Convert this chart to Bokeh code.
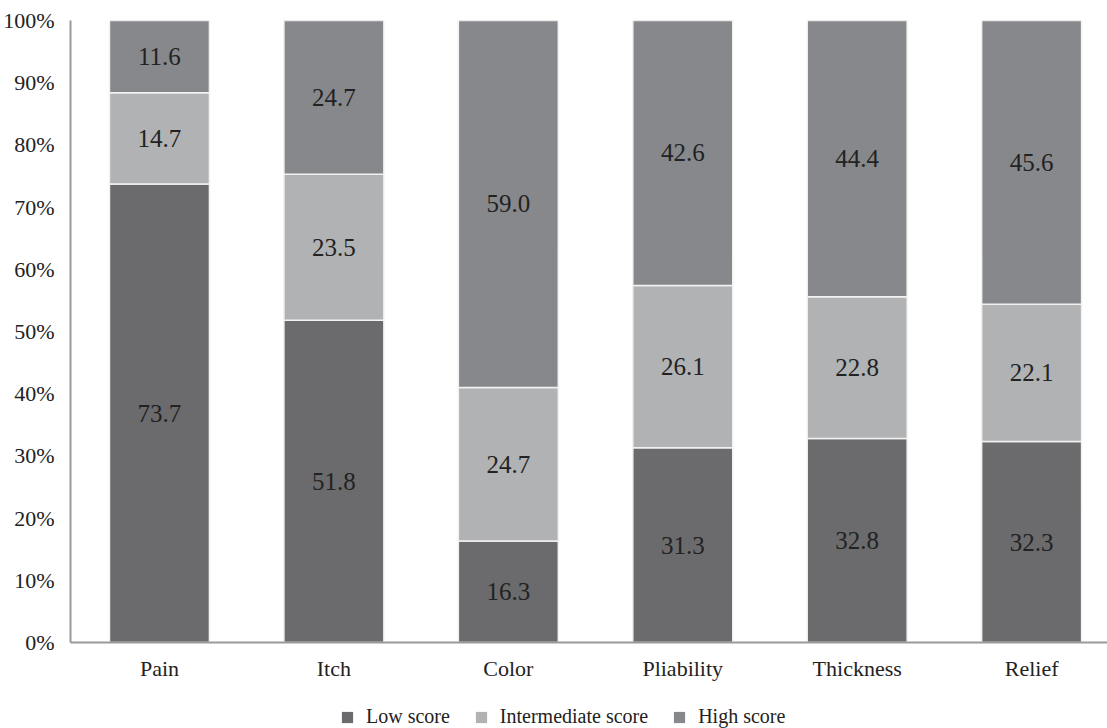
from bokeh.plotting import figure
from bokeh.layouts import column
from bokeh.models import ColumnDataSource, FixedTicker, Legend, LegendItem, Range1d, LabelSet
from bokeh.embed import file_html
from bokeh.resources import INLINE

categories = ["Pain", "Itch", "Color", "Pliability", "Thickness", "Relief"]
low = [73.7, 51.8, 16.3, 31.3, 32.8, 32.3]
intermediate = [14.7, 23.5, 24.7, 26.1, 22.8, 22.1]
high = [11.6, 24.7, 59.0, 42.6, 44.4, 45.6]
series_names = ["Low score", "Intermediate score", "High score"]
colors = ["#6b6b6d", "#b1b2b4", "#87888b"]
y_ticks = list(range(0, 101, 10))

x = list(range(len(categories)))
b1 = [0.0] * len(x)
t1 = [b + v for b, v in zip(b1, low)]
t2 = [b + v for b, v in zip(t1, intermediate)]
t3 = [100.0] * len(x)

src = ColumnDataSource(dict(
    x=x, b1=b1, t1=t1, t2=t2, t3=t3,
    low=[f"{v:.1f}" for v in low],
    mid=[f"{v:.1f}" for v in intermediate],
    high=[f"{v:.1f}" for v in high],
    m1=[(a + b) / 2 for a, b in zip(b1, t1)],
    m2=[(a + b) / 2 for a, b in zip(t1, t2)],
    m3=[(a + b) / 2 for a, b in zip(t2, t3)],
))

FONT = "Liberation Serif"
TXT = "#222222"
layers = [("b1", "t1"), ("t1", "t2"), ("t2", "t3")]

p = figure(width=1107, height=700, output_backend="svg", toolbar_location=None,
           x_range=Range1d(-0.51, 5.435), y_range=Range1d(0, 100),
           min_border_left=69, min_border_right=0, min_border_top=20, min_border_bottom=58)
p.outline_line_color = None
p.xgrid.visible = False
p.ygrid.visible = False

w = 0.573
for (b, t), c in zip(layers, colors):
    p.vbar(x="x", bottom=b, top=t, width=w, source=src, fill_color=c, line_color="#f2f2f2", line_width=1.5)

for col, ycol in (("low", "m1"), ("mid", "m2"), ("high", "m3")):
    p.add_layout(LabelSet(x="x", y=ycol, text=col, source=src, text_align="center", text_baseline="middle",
                          text_font=FONT, text_font_size="25px", text_color=TXT))

p.yaxis.ticker = FixedTicker(ticks=y_ticks)
p.yaxis.major_label_overrides = {t: f"{t}%" for t in y_ticks}
p.xaxis.ticker = FixedTicker(ticks=x)
p.xaxis.major_label_overrides = {i: c for i, c in enumerate(categories)}
for ax in (p.xaxis, p.yaxis):
    ax.axis_line_color = "#9a9a9c"
    ax.axis_line_width = 2
    ax.major_tick_line_color = None
    ax.minor_tick_line_color = None
    ax.major_label_text_font = FONT
    ax.major_label_text_font_size = "22px"
    ax.major_label_text_color = TXT
p.yaxis.major_label_standoff = 10
p.xaxis.major_label_standoff = 7

# legend strip: the same series as zero-width bars, used only for the legend glyphs
lf = figure(width=1107, height=28, output_backend="svg", toolbar_location=None,
            x_range=Range1d(50, 51), y_range=Range1d(500, 501),
            min_border_left=69, min_border_right=0, min_border_top=0, min_border_bottom=0)
lf.outline_line_color = None
lf.axis.visible = False
lf.grid.visible = False
lr = [lf.vbar(x="x", bottom=b, top=t, width=0, source=src, fill_color=c, line_color=None)
      for (b, t), c in zip(layers, colors)]
legend = Legend(items=[LegendItem(label=n, renderers=[r]) for n, r in zip(series_names, lr)],
                orientation="horizontal", location=(270, 0), border_line_color=None,
                background_fill_alpha=0,
                label_text_font=FONT, label_text_font_size="20px", label_text_color=TXT,
                glyph_width=14, glyph_height=14, spacing=24, label_standoff=12, margin=0, padding=2)
lf.add_layout(legend, "center")

open("out.html", "w").write(file_html(column(p, lf, spacing=0), INLINE))
